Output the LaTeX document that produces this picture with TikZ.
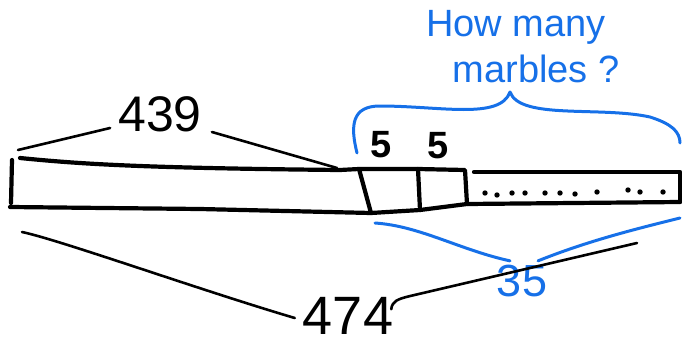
\documentclass[tikz,border=0pt]{standalone}
\usepackage{fontspec}
\setmainfont{Liberation Sans}
\usepackage{xcolor}
\usepackage{tikz}
\usetikzlibrary{positioning,calc}

\definecolor{penblue}{RGB}{22,112,232}

\begin{document}
\begin{tikzpicture}[x=1pt,y=-1pt,line cap=round,line join=round,
		tape/.style={line width=4.2pt,black},
		brace/.style={line width=2.6pt,black},
		bluebrace/.style={line width=3pt,penblue},
		num/.style={inner sep=0pt,font=\fontsize{#1}{#1}\selectfont}]
	\useasboundingbox (0,0) rectangle (682,345);
	
	% phần đã biết (439)
	\draw[tape] (12,160) -- (11,203);
	\draw[tape] (20,158) .. controls (80,164) and (140,168) .. (340,170) -- (359,169);
	\draw[tape] (10,207) -- (200,209) -- (371,213);
	
	% hai ô 5
	\draw[tape] (359,169) -- (418,169) -- (465,170) -- (467,204) -- (420,210) -- (371,213) -- cycle;
	\draw[tape] (418,169) -- (420,210);
	
	% phần còn lại
	\draw[tape] (474,172) -- (680,172) -- (680,202);
	\draw[tape] (467,204) -- (680,202);
	\foreach \x/\y in {485/193,497/195,512/193,525/193,545/193,560/193,575/194,597/192,628/190,640/192,663/192} {
		\fill (\x,\y) circle (2.7pt);
	}
	
	% nhãn
	\node[num=50] (top) at (160,114) {439};
	\node[num=54] (total) at (348,316) {474};
	\node[num=38,font=\fontsize{38}{38}\bfseries] (fiveA) at (381,145) {5};
	\node[num=38,font=\fontsize{38}{38}\bfseries] (fiveB) at (438,146) {5};
	\node[num=45,text=penblue] (rest) at (522,281) {35};
	\node[num=38,text=penblue] (askA) at (516,27) {How many};
	\node[num=38,text=penblue] (askB) at (536,69) {marbles ?};
	
	% đầu mút các ngoặc
	\coordinate (topL)   at (18,150);
	\coordinate (topR)   at (337,168);
	\coordinate (totalL) at (22,232);
	\coordinate (totalR) at (637,243);
	\coordinate (askL)   at (357,153);
	\coordinate (askR)   at (680,143);
	\coordinate (restL)  at (375,223);
	\coordinate (restR)  at (680,218);
	
	% ngoặc 439
	\draw[brace] (topL) .. controls (60,140) .. ($(top.west)+(-8,14)$);
	\draw[brace] ($(top.east)+(10,18)$) -- (topR);
	
	% ngoặc 474
	\draw[brace] (totalL) .. controls (60,240) and (200,290) .. ($(total.west)+(-8,2)$);
	\draw[brace] ($(total.north east)+(-2,12)$) .. controls ($(total.north east)+(-1,4)$) and ($(total.north east)+(4,2)$) .. ($(total.north east)+(16,-1)$) -- (totalR);
	
	% ngoặc câu hỏi
	\draw[bluebrace] (askL) .. controls (350,125) and (352,106) .. (380,106)
		.. controls (440,106) and (500,120) .. (510,92)
		.. controls (520,120) and (600,106) .. (650,117)
		.. controls (672,124) and (680,132) .. (askR);
	
	% ngoặc 35
	\draw[bluebrace] (restL) .. controls (420,226) and (460,250) .. ($(rest.north)+(-12,-4)$);
	\draw[bluebrace] ($(rest.north)+(16,-4)$) .. controls (590,240) and (640,228) .. (restR);
\end{tikzpicture}
\end{document}
